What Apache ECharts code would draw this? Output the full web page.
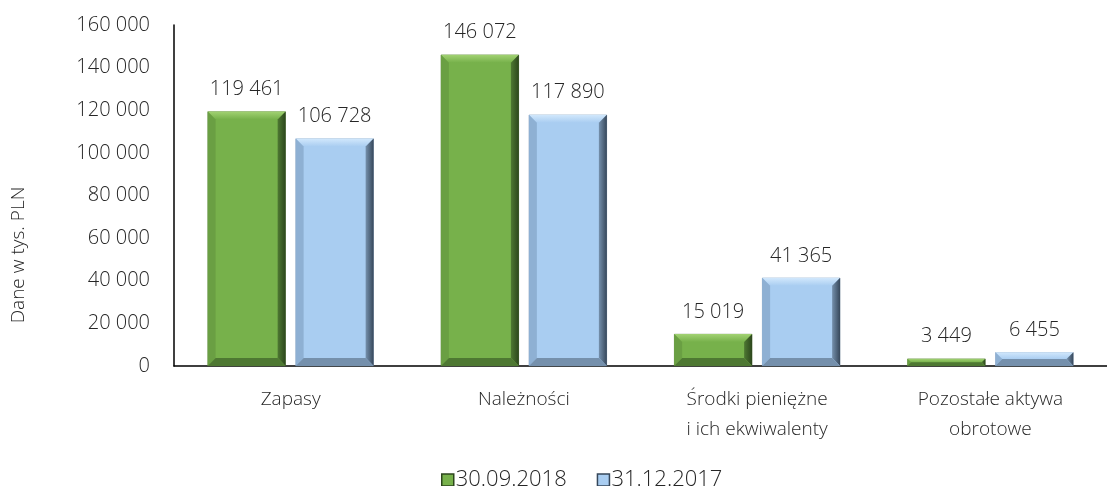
<!DOCTYPE html>
<html><head><meta charset="utf-8">
<script src="https://cdn.jsdelivr.net/npm/echarts@6/dist/echarts.min.js"></script>
<style>html,body{margin:0;padding:0;background:#fff}#c{width:1107px;height:486px}</style>
</head><body><div id="c"></div>
<script>
const categories = ['Zapasy', 'Należności', 'Środki pieniężne\ni ich ekwiwalenty', 'Pozostałe aktywa\nobrotowe'];
const seriesNames = ['30.09.2018', '31.12.2017'];
const values2018 = [119461, 146072, 15019, 3449];
const values2017 = [106728, 117890, 41365, 6455];
const yTicks = {min: 0, max: 160000, interval: 20000};
const yAxisTitle = 'Dane w tys. PLN';

const FONT = '"Open Sans", "Noto Sans", sans-serif';
const FW = 300;
const TXT = '#262626';
const palettes = [
  {main: '#77b14b', top: '#a2d273', left: '#6a9f43', right: '#2c461c', bottom: '#4e7832', border: '#4a6a33'},
  {main: '#a9cdf1', top: '#d2e8fc', left: '#8eb0d3', right: '#36475a', bottom: '#7590ac', border: '#6d87a2'}
];
const BW = 78, GAP = 10, BEV = 8;
const fmt = v => String(v).replace(/\B(?=(\d{3})+(?!\d))/g, ' ');

const bevelData = [];
[values2018, values2017].forEach((arr, s) => arr.forEach((v, i) => bevelData.push([i, v, s])));

const chart = echarts.init(document.getElementById('c'), null, {renderer: 'canvas'});
function barSeries(name, data, s) {
  return {
    name, type: 'bar', data, barWidth: BW, barGap: (GAP / BW * 100) + '%',
    itemStyle: {color: palettes[s].main, borderColor: palettes[s].border, borderWidth: 0.5},
    label: {show: true, position: 'top', distance: 12, formatter: p => fmt(p.value),
      fontFamily: FONT, fontSize: 20, fontWeight: FW, color: TXT},
    z: 2
  };
}
chart.setOption({
  animation: false,
  grid: {left: 174, right: -10, top: 25, bottom: 120, containLabel: false},
  graphic: [{
    type: 'text', x: 19, y: 255, rotation: Math.PI / 2,
    style: {text: yAxisTitle, fontFamily: FONT, fontSize: 19, fontWeight: FW, fill: TXT,
      align: 'center', verticalAlign: 'middle'}
  }],
  legend: {
    data: seriesNames.map((n, s) => ({name: n, icon: 'rect', itemStyle: {color: palettes[s].main, borderColor: palettes[s].right, borderWidth: 1.5}})),
    top: 464, left: 436, itemWidth: 12, itemHeight: 12, itemGap: 30,
    textStyle: {fontFamily: FONT, fontSize: 22, fontWeight: FW, color: TXT, padding: [0, 0, 0, -3]}
  },
  xAxis: {
    type: 'category', data: categories,
    axisLine: {lineStyle: {color: '#000', width: 1.5}}, axisTick: {show: false},
    axisLabel: {fontFamily: FONT, fontSize: 19, fontWeight: FW, color: TXT, margin: 19, lineHeight: 30}
  },
  yAxis: {
    type: 'value', min: yTicks.min, max: yTicks.max, interval: yTicks.interval,
    axisLine: {show: true, lineStyle: {color: '#000', width: 1.5}}, axisTick: {show: false},
    splitLine: {show: false},
    axisLabel: {formatter: fmt, fontFamily: FONT, fontSize: 20, fontWeight: FW, color: TXT, margin: 24}
  },
  series: [
    barSeries(seriesNames[0], values2018, 0),
    barSeries(seriesNames[1], values2017, 1),
    {
      type: 'custom', silent: true, z: 3, data: bevelData,
      encode: {x: 0, y: 1},
      renderItem: (params, api) => {
        const cat = api.value(0), val = api.value(1), s = api.value(2);
        const top = api.coord([cat, val]);
        const base = api.coord([cat, 0]);
        const cx = top[0];
        const x0 = s === 0 ? cx - GAP / 2 - BW : cx + GAP / 2;
        const x1 = x0 + BW;
        const y0 = top[1], y1 = base[1];
        const b = Math.min(BEV, (y1 - y0) / 2);
        const p = palettes[s];
        const poly = (pts, fill) => ({type: 'polygon', shape: {points: pts}, style: {fill}});
        const topFill = new echarts.graphic.LinearGradient(0, 0, 0, 1, [
          {offset: 0, color: p.top}, {offset: 1, color: p.main}]);
        const rightFill = new echarts.graphic.LinearGradient(0, 0, 1, 0, [
          {offset: 0, color: p.bottom}, {offset: 1, color: p.right}]);
        return {type: 'group', children: [
          poly([[x0, y0], [x1, y0], [x1 - b, y0 + b], [x0 + b, y0 + b]], topFill),
          poly([[x0, y0], [x0 + b, y0 + b], [x0 + b, y1 - b], [x0, y1]], p.left),
          poly([[x1, y0], [x1, y1], [x1 - b, y1 - b], [x1 - b, y0 + b]], rightFill),
          poly([[x0, y1], [x0 + b, y1 - b], [x1 - b, y1 - b], [x1, y1]], p.bottom)
        ]};
      }
    }
  ]
});
</script></body></html>
